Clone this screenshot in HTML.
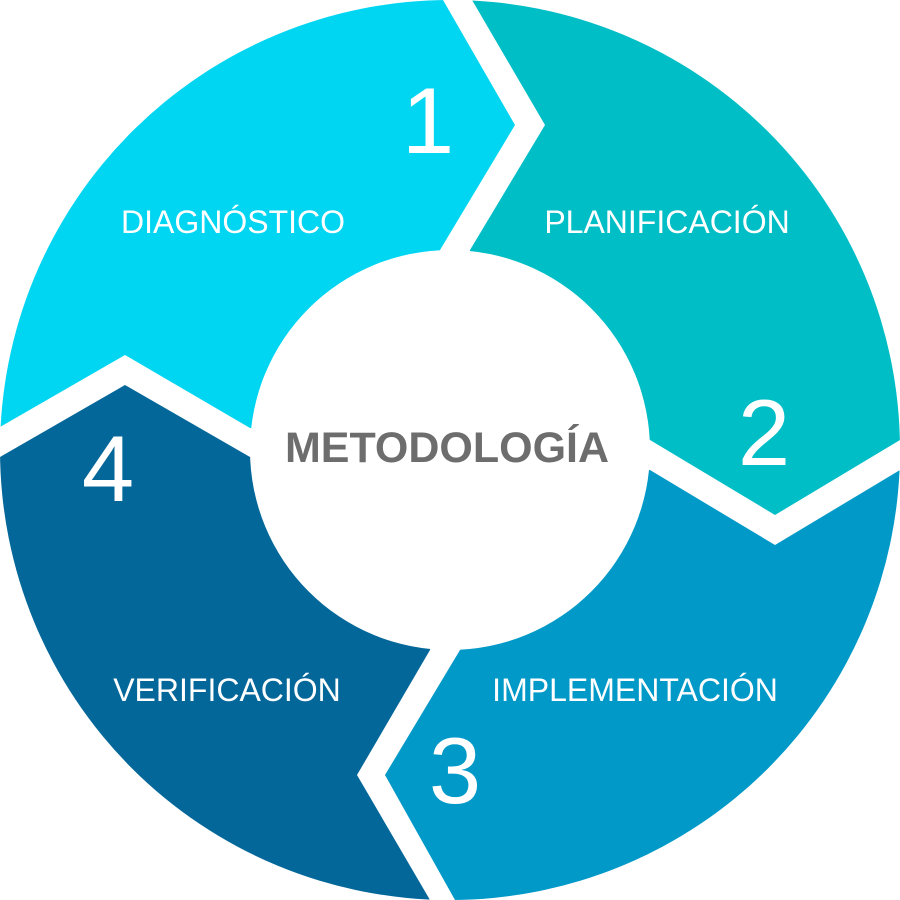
<!DOCTYPE html>
<html><head><meta charset="utf-8"><style>
html,body{margin:0;padding:0;background:#fff;}
svg{display:block;}
text{font-family:"Liberation Sans",sans-serif;}
</style></head><body>
<svg width="900" height="900" viewBox="0 0 900 900" xmlns="http://www.w3.org/2000/svg">
<defs>
<mask id="ring">
<rect width="900" height="900" fill="black"/>
<circle cx="450" cy="450" r="450" fill="white"/>
<circle cx="450" cy="450" r="200" fill="black"/>
</mask>
</defs>
<g mask="url(#ring)">
<polygon fill="#00d5f2" points="0,0 443,0 515,125 440,250 450,450 250,428 125,355 0,427"/>
<polygon fill="#00bec6" points="472,0 900,0 900,440 775,515 650,440 450,450 470,250 545,125"/>
<polygon fill="#0099c8" points="900,470 900,900 455,900 385,775 460,650 450,450 650,470 775,545"/>
<polygon fill="#04679a" points="0,457 125,385 250,457 450,450 430,650 357,775 430,900 0,900"/>
</g>
<g fill="#fff" font-size="94" text-anchor="middle">
<text x="428" y="153">1</text>
<text x="764" y="465">2</text>
<text x="455" y="803">3</text>
<text x="108" y="501">4</text>
</g>
<g fill="#fff" font-size="32" text-anchor="middle">
<text x="233" y="233">DIAGNÓSTICO</text>
<text x="667" y="233">PLANIFICACIÓN</text>
<text x="635" y="701">IMPLEMENTACIÓN</text>
<text x="227" y="701">VERIFICACIÓN</text>
</g>
<text x="447" y="462" fill="#6d6d6d" font-size="43" font-weight="bold" text-anchor="middle">METODOLOGÍA</text>
</svg>
</body></html>
